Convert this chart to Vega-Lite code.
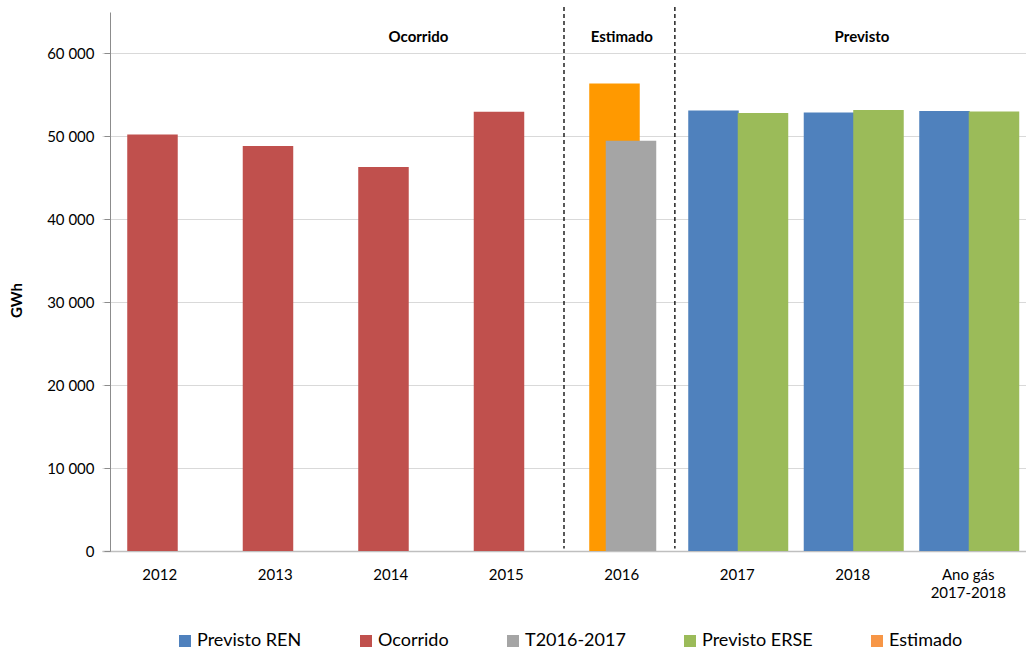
{
  "$schema": "https://vega.github.io/schema/vega-lite/v6.json",
  "autosize": {"type": "none"},
  "padding": {"left": 102, "top": 12, "right": 0, "bottom": 99},
  "width": 924,
  "height": 539,
  "background": "white",
  "config": {
    "font": "Lato",
    "view": {"stroke": null},
    "axis": {"labelFont": "Lato", "titleFont": "Lato"},
    "legend": {"labelFont": "Lato"}
  },
  "datasets": {
    "consumo": [
      {"ano": "2012", "serie": "Ocorrido", "gwh": 50240},
      {"ano": "2013", "serie": "Ocorrido", "gwh": 48840},
      {"ano": "2014", "serie": "Ocorrido", "gwh": 46310},
      {"ano": "2015", "serie": "Ocorrido", "gwh": 52980},
      {"ano": "2016", "serie": "Estimado", "gwh": 56390},
      {"ano": "2016", "serie": "T2016-2017", "gwh": 49480},
      {"ano": "2017", "serie": "Previsto REN", "gwh": 53130},
      {"ano": "2017", "serie": "Previsto ERSE", "gwh": 52820},
      {"ano": "2018", "serie": "Previsto REN", "gwh": 52890},
      {"ano": "2018", "serie": "Previsto ERSE", "gwh": 53180},
      {"ano": "Ano gás 2017-2018", "serie": "Previsto REN", "gwh": 53060},
      {"ano": "Ano gás 2017-2018", "serie": "Previsto ERSE", "gwh": 53010}
    ],
    "secoes": [
      {"secao": "Ocorrido", "ano": "2014"},
      {"secao": "Estimado", "ano": "2016"},
      {"secao": "Previsto", "ano": "2018"}
    ],
    "limites": [
      {"limite": "inicio estimado", "ano": "2016"},
      {"limite": "fim estimado", "ano": "2016"}
    ]
  },
  "layer": [
    {
      "data": {"name": "consumo"},
      "transform": [{"filter": "datum.serie == 'Estimado'"}],
      "mark": {"type": "bar", "width": 50.5, "color": "#FF9900"},
      "encoding": {
        "x": {"field": "ano", "type": "nominal"},
        "xOffset": {"datum": "Ocorrido", "type": "nominal"},
        "y": {"field": "gwh", "type": "quantitative"}
      }
    },
    {
      "data": {"name": "consumo"},
      "transform": [{"filter": "datum.serie != 'Estimado'"}],
      "mark": {"type": "bar", "width": 50.5},
      "encoding": {
        "x": {
          "field": "ano",
          "type": "nominal",
          "scale": {
            "domain": ["2012", "2013", "2014", "2015", "2016", "2017", "2018", "Ano gás 2017-2018"],
            "paddingInner": 0,
            "paddingOuter": 0
          },
          "axis": {
            "title": null,
            "labelAngle": 0,
            "labelAlign": "center",
            "ticks": false,
            "labelPadding": 23,
            "labelFontSize": 15,
            "labelColor": "#000000",
            "labelLineHeight": 18,
            "labelExpr": "datum.value == 'Ano gás 2017-2018' ? ['Ano gás', '2017-2018'] : datum.value",
            "domainColor": "#BFBFBF",
            "domainWidth": 1.5
          }
        },
        "xOffset": {
          "field": "serie",
          "type": "nominal",
          "scale": {
            "type": "band",
            "domain": ["margem", "Previsto REN", "Ocorrido", "T2016-2017", "Previsto ERSE", "folga"],
            "paddingInner": 0,
            "paddingOuter": 0.5,
            "align": 0.56
          }
        },
        "y": {
          "field": "gwh",
          "type": "quantitative",
          "scale": {"domain": [0, 65000], "nice": false},
          "axis": {
            "title": "GWh",
            "titleFontSize": 15,
            "titleFontWeight": "bold",
            "titleColor": "#000000",
            "titlePadding": 22,
            "titleY": 288,
            "values": [0, 10000, 20000, 30000, 40000, 50000, 60000],
            "labelExpr": "replace(format(datum.value, ','), ',', ' ')",
            "labelFontSize": 15,
            "labelColor": "#000000",
            "labelPadding": 10,
            "offset": -8,
            "tickSize": 6,
            "tickColor": "#8C8C8C",
            "domainColor": "#8C8C8C",
            "grid": true,
            "gridColor": "#D9D9D9"
          }
        },
        "color": {
          "field": "serie",
          "type": "nominal",
          "scale": {
            "domain": ["Previsto REN", "Ocorrido", "T2016-2017", "Previsto ERSE", "Estimado"],
            "range": ["#4F81BD", "#C0504D", "#A5A5A5", "#9BBB59", "#F79646"]
          },
          "legend": {
            "title": null,
            "orient": "none",
            "direction": "horizontal",
            "columns": 5,
            "legendX": 74,
            "legendY": 620,
            "columnPadding": 55,
            "symbolType": "square",
            "symbolSize": 144,
            "symbolStrokeWidth": 0,
            "labelFontSize": 18,
            "labelColor": "#000000",
            "labelOffset": 3
          }
        }
      }
    },
    {
      "data": {"name": "limites"},
      "transform": [{"filter": "datum.limite == 'inicio estimado'"}],
      "mark": {"type": "rule", "color": "#000000", "strokeWidth": 1.3, "strokeDash": [4, 3]},
      "encoding": {
        "x": {"field": "ano", "type": "nominal", "bandPosition": 0},
        "y": {"datum": 65600, "type": "quantitative"},
        "y2": {"datum": 300}
      }
    },
    {
      "data": {"name": "limites"},
      "transform": [{"filter": "datum.limite == 'fim estimado'"}],
      "mark": {"type": "rule", "color": "#000000", "strokeWidth": 1.3, "strokeDash": [4, 3]},
      "encoding": {
        "x": {"field": "ano", "type": "nominal", "bandPosition": 0.96},
        "y": {"datum": 65600, "type": "quantitative"},
        "y2": {"datum": 300}
      }
    },
    {
      "data": {"name": "secoes"},
      "transform": [{"filter": "datum.secao == 'Ocorrido'"}],
      "mark": {"type": "text", "font": "Lato", "fontSize": 15, "fontWeight": "bold", "color": "#000000", "baseline": "middle"},
      "encoding": {
        "x": {"field": "ano", "type": "nominal", "bandPosition": 0.74},
        "y": {"datum": 62000, "type": "quantitative"},
        "text": {"field": "secao"}
      }
    },
    {
      "data": {"name": "secoes"},
      "transform": [{"filter": "datum.secao == 'Estimado'"}],
      "mark": {"type": "text", "font": "Lato", "fontSize": 15, "fontWeight": "bold", "color": "#000000", "baseline": "middle"},
      "encoding": {
        "x": {"field": "ano", "type": "nominal", "bandPosition": 0.5},
        "y": {"datum": 62000, "type": "quantitative"},
        "text": {"field": "secao"}
      }
    },
    {
      "data": {"name": "secoes"},
      "transform": [{"filter": "datum.secao == 'Previsto'"}],
      "mark": {"type": "text", "font": "Lato", "fontSize": 15, "fontWeight": "bold", "color": "#000000", "baseline": "middle"},
      "encoding": {
        "x": {"field": "ano", "type": "nominal", "bandPosition": 0.58},
        "y": {"datum": 62000, "type": "quantitative"},
        "text": {"field": "secao"}
      }
    }
  ]
}
